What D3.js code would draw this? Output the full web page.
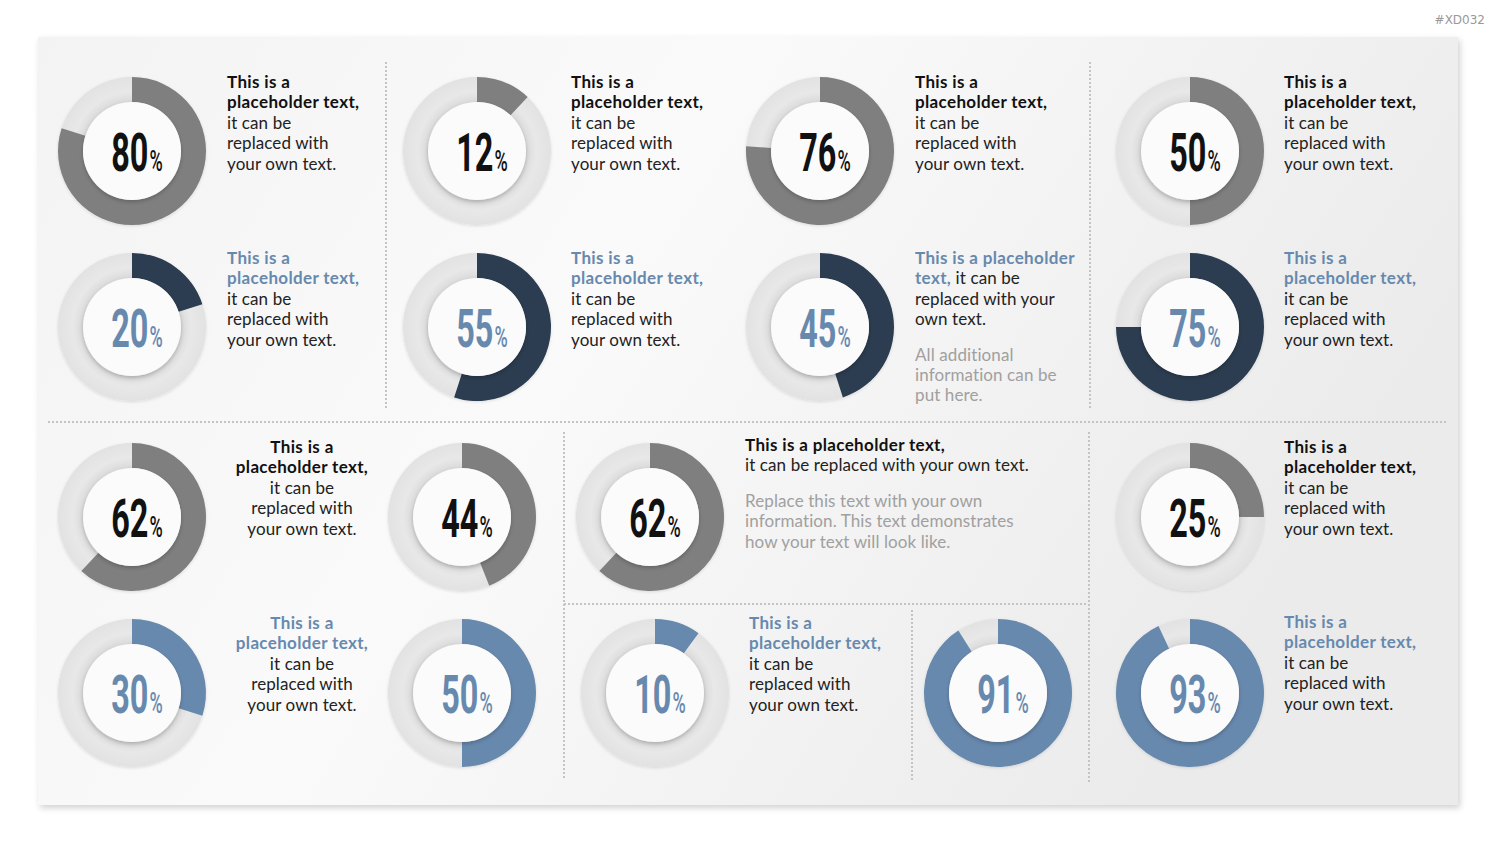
<!DOCTYPE html>
<html>
<head>
<meta charset="utf-8">
<script src="https://cdn.jsdelivr.net/npm/d3@7"></script>
<style>
  body { margin: 0; background: #fff; }
  svg { display: block; }
</style>
</head>
<body>
<div id="chart-area"></div>
<script>
// ---- data ----
var values = [80, 12, 76, 50, 20, 55, 45, 75, 62, 44, 62, 25, 30, 50, 10, 91, 93];
var themes = ["gray", "gray", "gray", "gray", "navy", "navy", "navy", "navy",
              "gray", "gray", "gray", "gray", "blue", "blue", "blue", "blue", "blue"];

// text blocks: each line is a list of [style, text] pieces
var textBlocks = [
  [[["t", "This is a"]], [["t", "placeholder text,"]], [["n", "it can be"]], [["n", "replaced with"]], [["n", "your own text."]]],
  [[["t", "This is a"]], [["t", "placeholder text,"]], [["n", "it can be"]], [["n", "replaced with"]], [["n", "your own text."]]],
  [[["t", "This is a"]], [["t", "placeholder text,"]], [["n", "it can be"]], [["n", "replaced with"]], [["n", "your own text."]]],
  [[["t", "This is a"]], [["t", "placeholder text,"]], [["n", "it can be"]], [["n", "replaced with"]], [["n", "your own text."]]],
  [[["b", "This is a"]], [["b", "placeholder text,"]], [["n", "it can be"]], [["n", "replaced with"]], [["n", "your own text."]]],
  [[["b", "This is a"]], [["b", "placeholder text,"]], [["n", "it can be"]], [["n", "replaced with"]], [["n", "your own text."]]],
  [[["b", "This is a placeholder"]], [["b", "text,"], ["n", " it can be"]], [["n", "replaced with your"]], [["n", "own text."]],
   [["g", "All additional"]], [["g", "information can be"]], [["g", "put here."]]],
  [[["b", "This is a"]], [["b", "placeholder text,"]], [["n", "it can be"]], [["n", "replaced with"]], [["n", "your own text."]]],
  [[["t", "This is a"]], [["t", "placeholder text,"]], [["n", "it can be"]], [["n", "replaced with"]], [["n", "your own text."]]],
  [[["t", "This is a placeholder text,"]], [["n", "it can be replaced with your own text."]],
   [["g", "Replace this text with your own"]], [["g", "information. This text demonstrates"]], [["g", "how your text will look like."]]],
  [[["t", "This is a"]], [["t", "placeholder text,"]], [["n", "it can be"]], [["n", "replaced with"]], [["n", "your own text."]]],
  [[["b", "This is a"]], [["b", "placeholder text,"]], [["n", "it can be"]], [["n", "replaced with"]], [["n", "your own text."]]],
  [[["b", "This is a"]], [["b", "placeholder text,"]], [["n", "it can be"]], [["n", "replaced with"]], [["n", "your own text."]]],
  [[["b", "This is a"]], [["b", "placeholder text,"]], [["n", "it can be"]], [["n", "replaced with"]], [["n", "your own text."]]]
];
var tag = "#XD032";

// ---- layout (positions only) ----
var width = 1500, height = 844;
var donutPos = [
  [132, 151], [477, 151], [820, 151], [1190, 151],
  [132, 327], [477, 327], [820, 327], [1190, 327],
  [132, 517], [462, 517], [650, 517], [1190, 517],
  [132, 693], [462, 693], [655, 693], [998, 693], [1190, 693]
];
// x, first baseline, anchor, index of line before which an extra gap is added
var textPos = [
  [227, 88, "start"], [571, 88, "start"], [915, 88, "start"], [1284, 88, "start"],
  [227, 264, "start"], [571, 264, "start"], [915, 264, "start", 4], [1284, 264, "start"],
  [302, 453, "middle"], [745, 451, "start", 2], [1284, 453, "start"],
  [302, 629, "middle"], [749, 629, "start"], [1284, 628, "start"]
];
var dotLines = [
  [386, 62, 386, 410], [1090, 62, 1090, 410],
  [48, 422, 1447, 422],
  [564, 432, 564, 780], [564, 604, 1088, 604],
  [1089, 432, 1089, 782], [912, 610, 912, 780]
];

var colors = { gray: "#7f7f7f", navy: "#2c3d51", blue: "#6889ae" };
var numColors = { gray: "#111111", navy: "#6889ae", blue: "#6889ae" };
var textColors = { t: "#111111", b: "#6889ae", n: "#222222", g: "#a0a0a0" };

var outerR = 74, innerR = 49;

var svg = d3.select("#chart-area")
    .append("svg")
    .attr("width", width)
    .attr("height", height);

var defs = svg.append("defs");

var bgGrad = defs.append("linearGradient")
    .attr("id", "bg-grad")
    .attr("x1", "0").attr("y1", "0").attr("x2", "1").attr("y2", "0.35");
bgGrad.append("stop").attr("offset", "0").attr("stop-color", "#f3f3f3");
bgGrad.append("stop").attr("offset", "0.45").attr("stop-color", "#fafafa");
bgGrad.append("stop").attr("offset", "1").attr("stop-color", "#ebebeb");

var panelShadow = defs.append("filter").attr("id", "panel-shadow")
    .attr("x", "-5%").attr("y", "-5%").attr("width", "110%").attr("height", "110%");
panelShadow.append("feDropShadow")
    .attr("dx", 2).attr("dy", 3).attr("stdDeviation", 3)
    .attr("flood-color", "#000").attr("flood-opacity", 0.18);

var ringShadow = defs.append("filter").attr("id", "ring-shadow")
    .attr("x", "-20%").attr("y", "-20%").attr("width", "140%").attr("height", "140%");
ringShadow.append("feDropShadow")
    .attr("dx", 0).attr("dy", 1).attr("stdDeviation", 1.5)
    .attr("flood-color", "#000").attr("flood-opacity", 0.12);

var holeShadow = defs.append("filter").attr("id", "hole-shadow")
    .attr("x", "-20%").attr("y", "-20%").attr("width", "140%").attr("height", "140%");
holeShadow.append("feDropShadow")
    .attr("dx", 0).attr("dy", 2).attr("stdDeviation", 2)
    .attr("flood-color", "#000").attr("flood-opacity", 0.22);

var trackGrad = defs.append("radialGradient")
    .attr("id", "track-grad")
    .attr("cx", "0.5").attr("cy", "0.5").attr("r", "0.5");
trackGrad.append("stop").attr("offset", "0.66").attr("stop-color", "#dadada");
trackGrad.append("stop").attr("offset", "0.8").attr("stop-color", "#e8e8e8");
trackGrad.append("stop").attr("offset", "1").attr("stop-color", "#e2e2e2");

// Panel
svg.append("rect")
    .attr("x", 38).attr("y", 37)
    .attr("width", 1420).attr("height", 768)
    .attr("fill", "url(#bg-grad)")
    .attr("filter", "url(#panel-shadow)");

// Tag
svg.append("text")
    .attr("x", 1485).attr("y", 24)
    .attr("text-anchor", "end")
    .attr("font-family", "DejaVu Sans, sans-serif")
    .attr("font-size", "12px")
    .attr("fill", "#999")
    .text(tag);

// Dotted separators
svg.selectAll(".sep")
    .data(dotLines)
    .enter().append("line")
    .attr("class", "sep")
    .attr("x1", function (d) { return d[0]; })
    .attr("y1", function (d) { return d[1]; })
    .attr("x2", function (d) { return d[2]; })
    .attr("y2", function (d) { return d[3]; })
    .attr("stroke", "#c4c4c4")
    .attr("stroke-width", 2)
    .attr("stroke-dasharray", "2,2");

// Donuts
var angle = d3.scaleLinear().domain([0, 100]).range([0, 2 * Math.PI]);
var arc = d3.arc().innerRadius(innerR).outerRadius(outerR).startAngle(0);

var donuts = svg.selectAll(".donut")
    .data(values)
    .enter().append("g")
    .attr("class", "donut")
    .attr("transform", function (d, i) {
        return "translate(" + donutPos[i][0] + "," + donutPos[i][1] + ")";
    });

donuts.append("circle")
    .attr("r", outerR)
    .attr("fill", "url(#track-grad)")
    .attr("filter", "url(#ring-shadow)");

donuts.append("path")
    .attr("d", function (d) { return arc({ endAngle: angle(d) }); })
    .attr("fill", function (d, i) { return colors[themes[i]]; });

donuts.append("circle")
    .attr("r", innerR)
    .attr("fill", "#fbfbfb")
    .attr("filter", "url(#hole-shadow)");

var label = donuts.append("text")
    .attr("transform", "translate(5,20) scale(0.6,1)")
    .attr("text-anchor", "middle")
    .attr("font-family", "Roboto, sans-serif")
    .attr("font-weight", 700)
    .attr("fill", function (d, i) { return numColors[themes[i]]; });

label.append("tspan")
    .attr("font-size", "54px")
    .text(function (d) { return d; });
label.append("tspan")
    .attr("font-size", "30px")
    .attr("font-weight", 500)
    .attr("dx", 2)
    .text("%");

// Text blocks
var lineH = 20.4;
textBlocks.forEach(function (block, bi) {
    var pos = textPos[bi];
    var t = svg.append("text")
        .attr("font-family", "Lato, sans-serif")
        .attr("font-size", "17px")
        .attr("text-anchor", pos[2]);
    block.forEach(function (line, li) {
        var y = pos[1] + li * lineH + (pos[3] !== undefined && li >= pos[3] ? 15 : 0);
        line.forEach(function (piece, pi) {
            var bold = (piece[0] == "t" || piece[0] == "b");
            var s = t.append("tspan")
                .attr("fill", textColors[piece[0]])
                .attr("font-weight", bold ? 700 : 400)
                .attr("letter-spacing", bold ? "0.35px" : "0.1px")
                .style("white-space", "pre")
                .text(piece[1]);
            if (pi == 0) s.attr("x", pos[0]).attr("y", y);
        });
    });
});
</script>
</body>
</html>
